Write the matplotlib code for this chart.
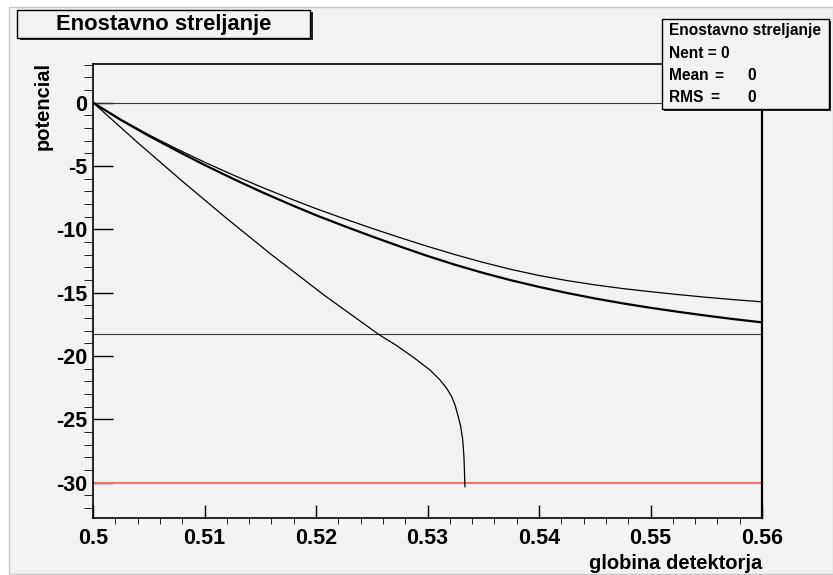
import numpy as np
import matplotlib
matplotlib.use("Agg")
import matplotlib.pyplot as plt
from matplotlib.patches import Rectangle
from matplotlib.ticker import MultipleLocator

plt.rcParams['font.family'] = ['Liberation Sans', 'DejaVu Sans']
plt.rcParams['font.weight'] = 'bold'
plt.rcParams['axes.unicode_minus'] = False

# potential along depth, three shooting trials
depth = [0.5000, 0.5025, 0.5050, 0.5075, 0.5100, 0.5125, 0.5150, 0.5175, 0.5200,
         0.5225, 0.5250, 0.5275, 0.5300, 0.5325, 0.5350, 0.5375, 0.5400, 0.5425,
         0.5450, 0.5475, 0.5500, 0.5525, 0.5550, 0.5575, 0.5600]
v_upper = [0.0, -1.33, -2.54, -3.65, -4.70, -5.69, -6.63, -7.52, -8.37,
           -9.16, -9.92, -10.65, -11.35, -12.01, -12.62, -13.17, -13.65, -14.05,
           -14.39, -14.68, -14.93, -15.16, -15.37, -15.56, -15.73]
v_thick = [0.0, -1.37, -2.62, -3.79, -4.92, -5.99, -7.01, -7.97, -8.89,
           -9.74, -10.56, -11.35, -12.11, -12.81, -13.45, -14.03, -14.55, -15.03,
           -15.46, -15.85, -16.20, -16.52, -16.82, -17.10, -17.35]

x_steep = [0.500, 0.504, 0.508, 0.512, 0.516, 0.5208, 0.5257, 0.52724,
           0.52873, 0.53022, 0.53112, 0.53172, 0.53217, 0.53247, 0.53276, 0.53298,
           0.53316, 0.53327, 0.53336]
v_steep = [0.0, -3.15, -6.2, -9.15, -12.0, -15.25, -18.35, -19.19,
           -20.11, -21.11, -21.90, -22.56, -23.22, -23.88, -24.80, -25.59,
           -26.64, -27.96, -30.33]

level_zero = 0.0
level_mid = -18.3
level_red = -30.0

xticks = [0.50, 0.51, 0.52, 0.53, 0.54, 0.55, 0.56]
xtick_labels = ['0.5', '0.51', '0.52', '0.53', '0.54', '0.55', '0.56']
yticks = [0, -5, -10, -15, -20, -25, -30]
ytick_labels = ['0', '-5', '-10', '-15', '-20', '-25', '-30']

W, H = 833, 575
fig = plt.figure(figsize=(W / 100, H / 100), dpi=100, facecolor='white')


def fx(px):
    return px / W


def fy(py):
    return 1 - py / H


def box(x0, y0, x1, y1, **kw):
    fig.patches.append(Rectangle((fx(x0), fy(y1)), fx(x1 - x0), (y1 - y0) / H,
                                 transform=fig.transFigure, **kw))


# canvas
box(9, 7, 833, 574, facecolor='#f2f2f2', edgecolor='#c8c8c8', lw=1, zorder=-1)

ax = fig.add_axes([fx(93), fy(518), fx(762 - 93), (518 - 64) / H])
ax.set_facecolor('#f2f2f2')
ax.set_xlim(0.5, 0.56)
ax.set_ylim(-32.8, 3.05)

ax.axhline(level_zero, color='#333333', lw=0.8)
ax.axhline(level_mid, color='#333333', lw=0.8)
ax.axhline(level_red, color='#f07070', lw=1.5)
ax.plot(depth, v_upper, color='black', lw=0.9)
ax.plot(depth, v_thick, color='black', lw=1.6)
ax.plot(x_steep, v_steep, color='black', lw=0.9)

for s in ax.spines.values():
    s.set_linewidth(1.2)
ax.spines['right'].set_linewidth(1.6)

ax.set_xticks(xticks)
ax.set_xticklabels(xtick_labels)
ax.set_yticks(yticks)
ax.set_yticklabels(ytick_labels)
ax.xaxis.set_minor_locator(MultipleLocator(0.002))
ax.yaxis.set_minor_locator(MultipleLocator(1))
ax.tick_params(direction='in', labelsize=15.5, width=1)
ax.tick_params(axis='y', which='major', length=14.4, pad=4.3)
ax.tick_params(axis='y', which='minor', length=6.5)
ax.tick_params(axis='x', which='major', length=9.4, pad=7)
ax.tick_params(axis='x', which='minor', length=4.3)
for lab in ax.get_xticklabels() + ax.get_yticklabels():
    lab.set_fontweight('bold')

fig.text(fx(762), fy(569), 'globina detektorja', ha='right', va='baseline',
         fontsize=14.5, fontweight='bold')
fig.text(fx(43), fy(62), 'potencial', rotation=90, ha='center', va='top',
         fontsize=14.5, fontweight='bold')

# title box with shadow
box(20, 12, 313, 40, facecolor='#202020', edgecolor='none', zorder=5)
box(17, 10, 310, 38, facecolor='#f2f2f2', edgecolor='black', lw=1, zorder=6)
fig.text(fx(163.5), fy(24.5), 'Enostavno streljanje', ha='center', va='center',
         fontsize=15.8, fontweight='bold', zorder=7)

# statistics box
box(664, 21, 831, 111, facecolor='#202020', edgecolor='none', zorder=5)
box(662, 19, 829, 109, facecolor='#f2f2f2', edgecolor='black', lw=1, zorder=6)
stat_kw = dict(fontsize=11.2, fontweight='bold', va='center', zorder=7)
fig.text(fx(669), fy(31), 'Enostavno streljanje', ha='left', **stat_kw)
fig.text(fx(669), fy(53.5), 'Nent = 0', ha='left', **stat_kw)
fig.text(fx(669), fy(76), 'Mean', ha='left', **stat_kw)
fig.text(fx(719), fy(76), '=', ha='center', **stat_kw)
fig.text(fx(752), fy(76), '0', ha='center', **stat_kw)
fig.text(fx(669), fy(98), 'RMS', ha='left', **stat_kw)
fig.text(fx(715), fy(98), '=', ha='center', **stat_kw)
fig.text(fx(752), fy(98), '0', ha='center', **stat_kw)

fig.savefig('out.png', dpi=100, facecolor='white')
